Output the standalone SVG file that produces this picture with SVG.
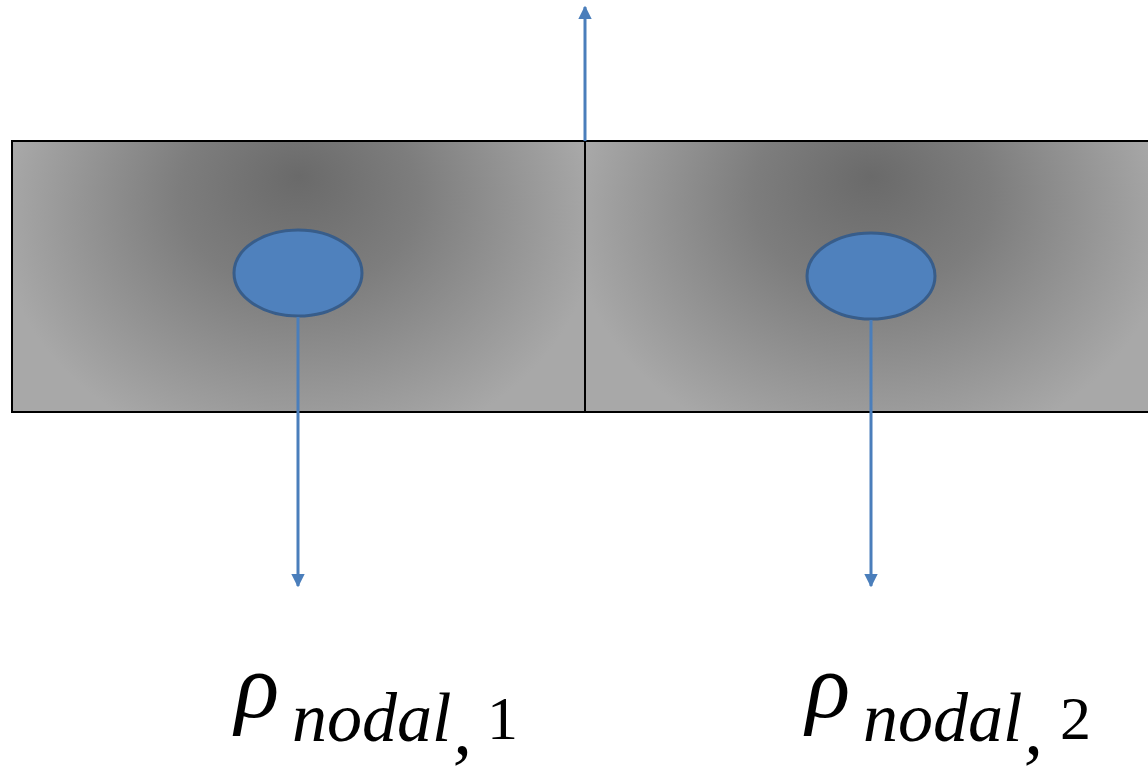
<svg xmlns="http://www.w3.org/2000/svg" width="1148" height="776" viewBox="0 0 1148 776">
<defs>
<radialGradient id="g" cx="0.5" cy="0.3" r="0.52" fx="0.5" fy="0.2" gradientTransform="translate(0.5 0.3) scale(1 1.7) translate(-0.5 -0.3)">
<stop offset="0" stop-color="#6a6a6a"/>
<stop offset="0.4" stop-color="#7d7d7d"/>
<stop offset="1" stop-color="#a8a8a8"/>
</radialGradient>
<marker id="ah" viewBox="0 0 10 10" refX="9" refY="5" markerWidth="4.5" markerHeight="4.5" orient="auto" markerUnits="strokeWidth">
<path d="M0,0 L10,5 L0,10 z" fill="#4a7ebb"/>
</marker>
<style>
.cell{fill:url(#g);stroke:#000;stroke-width:2}
.node{fill:#4f81bd;stroke:#385d8a;stroke-width:3}
.con{stroke:#4a7ebb;stroke-width:3;fill:none;marker-end:url(#ah)}
.lbl{font-family:"Liberation Serif","DejaVu Serif",serif;fill:#000}
</style>
</defs>
<rect width="1148" height="776" fill="#fff"/>
<g id="cell1"><rect class="cell" x="12" y="141" width="573" height="271"/></g>
<g id="cell2"><rect class="cell" x="585" y="141" width="573" height="271"/></g>
<g id="node1"><ellipse class="node" cx="298" cy="273" rx="64" ry="43"/></g>
<g id="node2"><ellipse class="node" cx="871" cy="276" rx="64" ry="43"/></g>
<g id="connectors">
<line class="con" x1="585" y1="141" x2="585" y2="7"/>
<line class="con" x1="298" y1="317" x2="298" y2="586"/>
<line class="con" x1="871" y1="320" x2="871" y2="586"/>
</g>
<g id="label1"><text class="lbl"><tspan x="235" y="717" font-size="92" font-style="italic">ρ</tspan><tspan x="292" y="741" font-size="70" font-style="italic">nodal</tspan><tspan x="453" y="754" font-size="76" font-style="italic">,</tspan><tspan x="487" y="739" font-size="62">1</tspan></text></g>
<g id="label2"><text class="lbl"><tspan x="806" y="717" font-size="92" font-style="italic">ρ</tspan><tspan x="863" y="741" font-size="70" font-style="italic">nodal</tspan><tspan x="1024" y="754" font-size="76" font-style="italic">,</tspan><tspan x="1060" y="739" font-size="62">2</tspan></text></g>
</svg>
